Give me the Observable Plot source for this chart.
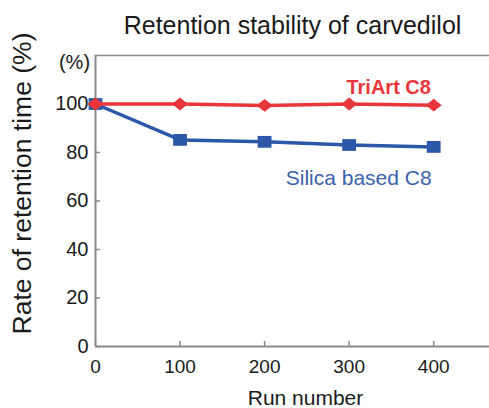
<!DOCTYPE html>
<html><head><meta charset="utf-8">
<script src="https://cdn.jsdelivr.net/npm/d3@7"></script>
<script src="https://cdn.jsdelivr.net/npm/@observablehq/plot@0.6"></script>
<style>
body{margin:0;background:#fff;font-family:"Liberation Sans",Arial,sans-serif;}
</style></head><body><div id="chart"></div>
<script>
const runs = [0, 100, 200, 300, 400];
const triart = [100, 100, 99.4, 100, 99.5];
const silica = [100, 85.2, 84.4, 83.1, 82.3];
const xTicks = [0, 100, 200, 300, 400];
const yTicks = [0, 20, 40, 60, 80, 100];
const title = "Retention stability of carvedilol";
const xLabel = "Run number";
const yLabel = "Rate of retention time (%)";

const red = "#e8363b", blue = "#2b58a8", axisCol = "#8a8a8a", textCol = "#1a1a1a";
const tri = runs.map((r, i) => ({run: r, v: triart[i]}));
const sil = runs.map((r, i) => ({run: r, v: silica[i]}));

// slightly wide diamond and rectangle markers, as in the reference
const wideDiamond = {draw(ctx, size) {
  const a = Math.sqrt(size / 1.6), b = 0.8 * a;
  ctx.moveTo(-a, 0); ctx.lineTo(0, -b); ctx.lineTo(a, 0); ctx.lineTo(0, b); ctx.closePath();
}};
const wideSquare = {draw(ctx, size) {
  const h = Math.sqrt(size / 1.17), w = 1.17 * h;
  ctx.rect(-w / 2, -h / 2, w, h);
}};

const chart = Plot.plot({
  width: 489, height: 408,
  marginLeft: 95, marginRight: 0, marginTop: 55, marginBottom: 62,
  style: {fontFamily: '"Liberation Sans", Arial, sans-serif', background: "#fff"},
  x: {domain: [0, 466]},
  y: {domain: [0, 120]},
  marks: [
    Plot.frame({stroke: axisCol, strokeWidth: 1.5, anchor: "top"}),
    Plot.ruleX([0], {stroke: axisCol, strokeWidth: 2}),
    Plot.ruleY([0], {stroke: axisCol, strokeWidth: 2}),
    Plot.axisY({ticks: yTicks, tickSize: -5, stroke: axisCol, strokeWidth: 1.5, tickPadding: 12, fontSize: 20, fill: textCol, label: null}),
    Plot.axisX({ticks: xTicks, tickSize: -5, stroke: axisCol, strokeWidth: 1.5, tickPadding: 18, fontSize: 19, fill: textCol, label: null}),
    Plot.line(sil, {x: "run", y: "v", stroke: blue, strokeWidth: 3.5}),
    Plot.dot(sil, {x: "run", y: "v", symbol: wideSquare, r: 7.2, fill: blue}),
    Plot.line(tri, {x: "run", y: "v", stroke: red, strokeWidth: 3.5}),
    Plot.dot(tri, {x: "run", y: "v", symbol: wideDiamond, r: 5.7, fill: red}),
    Plot.text([tri[4]], {x: "run", y: "v", text: () => "TriArt C8", dx: -45, dy: -18, fill: red, fontSize: 20, fontWeight: "bold", lineAnchor: "middle"}),
    Plot.text([sil[4]], {x: "run", y: "v", text: () => "Silica based C8", dx: -75, dy: 31, fill: "#3a62ad", fontSize: 21, lineAnchor: "middle"}),
    Plot.text([title], {frameAnchor: "top", textAnchor: "middle", lineAnchor: "middle", dx: 0, dy: -30, fill: textCol, fontSize: 25}),
    Plot.text(["(%)"], {frameAnchor: "top-left", textAnchor: "middle", lineAnchor: "middle", dx: -21, dy: 7, fill: textCol, fontSize: 20}),
    Plot.text([xLabel], {frameAnchor: "bottom", textAnchor: "middle", lineAnchor: "middle", dx: 13, dy: 52, fill: textCol, fontSize: 21}),
    Plot.text([yLabel], {frameAnchor: "left", textAnchor: "middle", lineAnchor: "middle", dx: -73, dy: -17.5, rotate: -90, fill: textCol, fontSize: 26.5})
  ]
});
document.getElementById("chart").append(chart);
</script></body></html>
